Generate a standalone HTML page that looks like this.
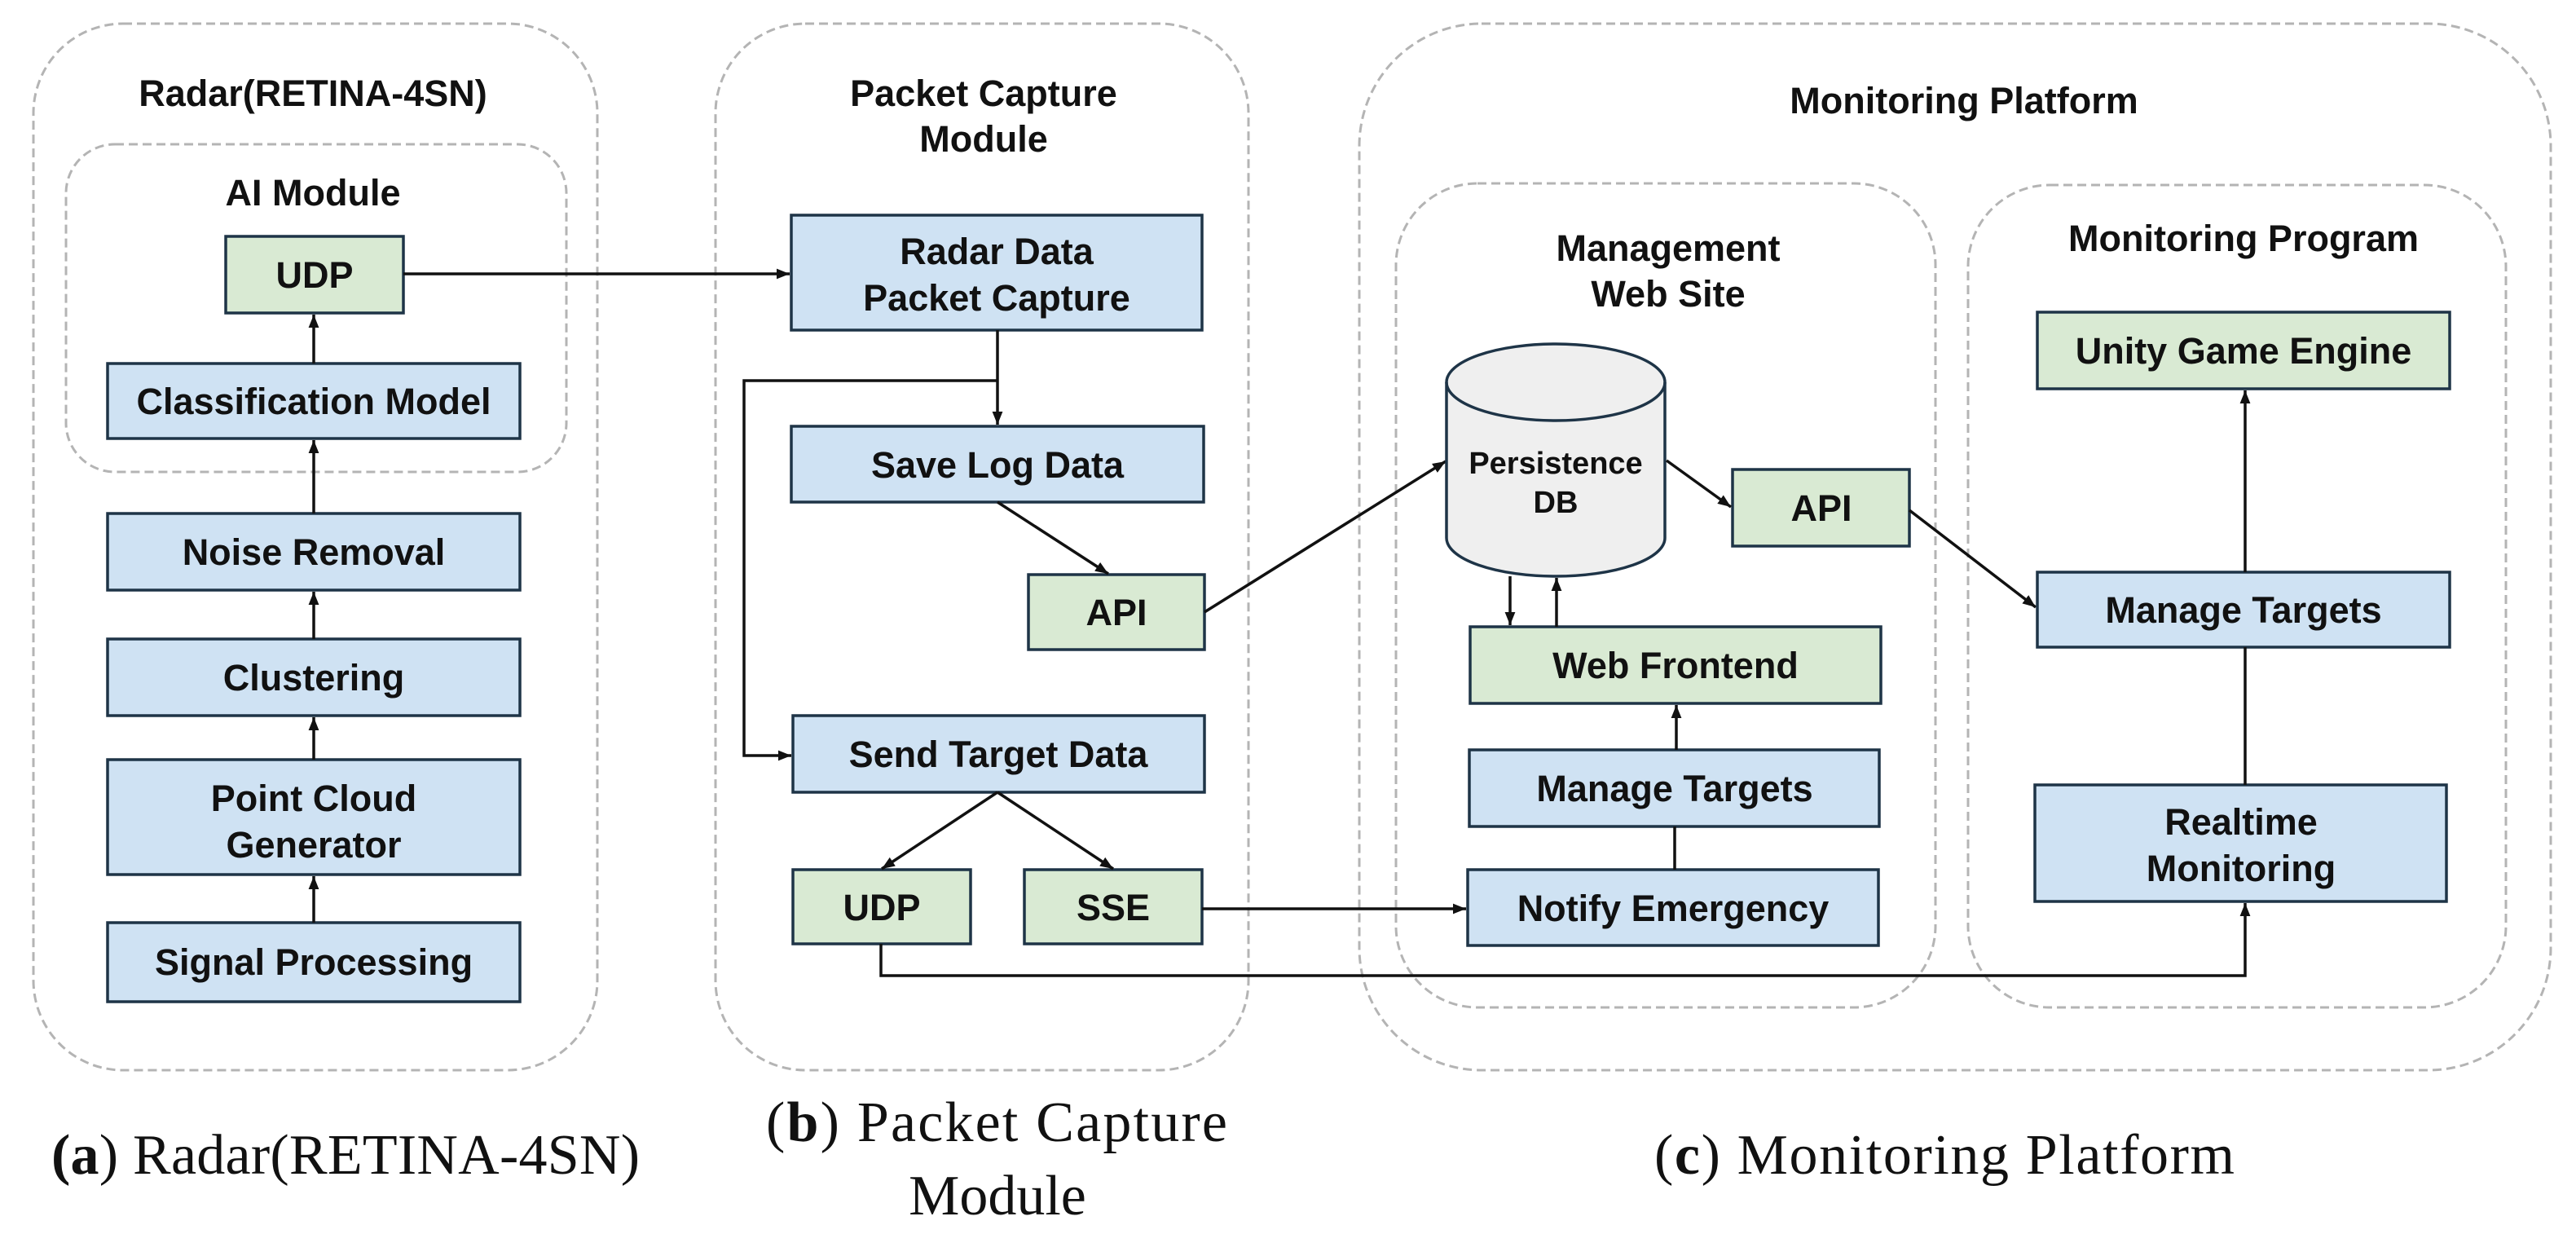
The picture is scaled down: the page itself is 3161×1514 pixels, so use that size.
<!DOCTYPE html>
<html><head><meta charset="utf-8"><style>
html,body{margin:0;padding:0;background:#fff}
svg{display:block}
.b{fill:#cfe2f3;stroke:#1e3447;stroke-width:3.5}
.g{fill:#d9ead3;stroke:#1e3447;stroke-width:3.5}
.d{fill:none;stroke:#b4b4b4;stroke-width:3;stroke-dasharray:11 6}
.t{font-family:"Liberation Sans",sans-serif;font-weight:bold;font-size:45px;fill:#111;text-anchor:middle}
.h{font-family:"Liberation Sans",sans-serif;font-weight:bold;font-size:45px;fill:#111;text-anchor:middle}
.c{font-family:"Liberation Serif",serif;font-size:70px;fill:#111;text-anchor:middle}
.l{fill:none;stroke:#111;stroke-width:3.5}
</style></head><body>
<svg width="3161" height="1514" viewBox="0 0 3161 1514" xmlns="http://www.w3.org/2000/svg">
<defs>
<marker id="m" viewBox="0 0 10 10" refX="10" refY="5" markerWidth="16" markerHeight="16" orient="auto" markerUnits="userSpaceOnUse"><path d="M0,1 L10,5 L0,9 z" fill="#111"/></marker></defs>

<!-- containers -->
<rect class="d" x="41" y="29" width="692" height="1284" rx="110"/>
<rect class="d" x="81" y="177" width="614" height="402" rx="60"/>
<rect class="d" x="878" y="29" width="654" height="1284" rx="110"/>
<rect class="d" x="1668" y="29" width="1462" height="1284" rx="150"/>
<rect class="d" x="1713" y="225" width="662" height="1011" rx="100"/>
<rect class="d" x="2415" y="227" width="660" height="1009" rx="100"/>

<text class="h" x="384" y="130">Radar(RETINA-4SN)</text>
<text class="h" x="384" y="252">AI Module</text>
<text class="h" x="1207" y="130">Packet Capture</text>
<text class="h" x="1207" y="186">Module</text>
<text class="h" x="2410" y="139">Monitoring Platform</text>
<text class="h" x="2047" y="320">Management</text>
<text class="h" x="2047" y="376">Web Site</text>
<text class="h" x="2753" y="308">Monitoring Program</text>

<!-- radar column -->
<rect class="g" x="277" y="290" width="218" height="94"/><text class="t" x="386" y="353">UDP</text>
<rect class="b" x="132" y="446" width="506" height="92"/><text class="t" x="385" y="508">Classification Model</text>
<rect class="b" x="132" y="630" width="506" height="94"/><text class="t" x="385" y="693">Noise Removal</text>
<rect class="b" x="132" y="784" width="506" height="94"/><text class="t" x="385" y="847">Clustering</text>
<rect class="b" x="132" y="932" width="506" height="141"/><text class="t" x="385" y="995">Point Cloud</text><text class="t" x="385" y="1052">Generator</text>
<rect class="b" x="132" y="1132" width="506" height="97"/><text class="t" x="385" y="1196">Signal Processing</text>
<g class="l">
<line x1="385" y1="1132" x2="385" y2="1075" marker-end="url(#m)"/>
<line x1="385" y1="932" x2="385" y2="880" marker-end="url(#m)"/>
<line x1="385" y1="784" x2="385" y2="726" marker-end="url(#m)"/>
<line x1="385" y1="630" x2="385" y2="540" marker-end="url(#m)"/>
<line x1="385" y1="446" x2="385" y2="386" marker-end="url(#m)"/>
<line x1="495" y1="336" x2="969" y2="336" marker-end="url(#m)"/>
</g>

<!-- packet capture -->
<rect class="b" x="971" y="264" width="504" height="141"/><text class="t" x="1223" y="324">Radar Data</text><text class="t" x="1223" y="381">Packet Capture</text>
<rect class="b" x="971" y="523" width="506" height="93"/><text class="t" x="1224" y="586">Save Log Data</text>
<rect class="g" x="1262" y="705" width="216" height="92"/><text class="t" x="1370" y="767">API</text>
<rect class="b" x="973" y="878" width="505" height="94"/><text class="t" x="1225" y="941">Send Target Data</text>
<rect class="g" x="973" y="1067" width="218" height="91"/><text class="t" x="1082" y="1129">UDP</text>
<rect class="g" x="1257" y="1067" width="218" height="91"/><text class="t" x="1366" y="1129">SSE</text>
<g class="l">
<line x1="1224" y1="405" x2="1224" y2="521" marker-end="url(#m)"/>
<polyline points="1224,467 913,467 913,927 971,927" marker-end="url(#m)"/>
<line x1="1224" y1="616" x2="1360" y2="704" marker-end="url(#m)"/>
<line x1="1224" y1="972" x2="1082" y2="1066" marker-end="url(#m)"/>
<line x1="1224" y1="972" x2="1366" y2="1066" marker-end="url(#m)"/>
<line x1="1478" y1="751" x2="1774" y2="566" marker-end="url(#m)"/>
<line x1="1475" y1="1115" x2="1799" y2="1115" marker-end="url(#m)"/>
<polyline points="1081,1158 1081,1197 2755,1197 2755,1108" marker-end="url(#m)"/>
</g>

<!-- management web -->
<path d="M1775,469 L1775,660 A134,47 0 0 0 2043,660 L2043,469 A134,47 0 0 0 1775,469 Z" fill="#efefef" stroke="#1e3447" stroke-width="3.5"/>
<path d="M1775,469 A134,47 0 0 0 2043,469" fill="none" stroke="#1e3447" stroke-width="3.5"/>
<text class="t" x="1909" y="581" style="font-size:38px">Persistence</text>
<text class="t" x="1909" y="629" style="font-size:38px">DB</text>
<rect class="g" x="2126" y="576" width="217" height="94"/><text class="t" x="2235" y="639">API</text>
<rect class="g" x="1804" y="769" width="504" height="94"/><text class="t" x="2056" y="832">Web Frontend</text>
<rect class="b" x="1803" y="920" width="503" height="94"/><text class="t" x="2055" y="983">Manage Targets</text>
<rect class="b" x="1801" y="1067" width="504" height="93"/><text class="t" x="2053" y="1130">Notify Emergency</text>
<g class="l">
<line x1="1853" y1="707" x2="1853" y2="767" marker-end="url(#m)"/>
<line x1="1910" y1="769" x2="1910" y2="709" marker-end="url(#m)"/>
<line x1="2057" y1="920" x2="2057" y2="865" marker-end="url(#m)"/>
<line x1="2055" y1="1067" x2="2055" y2="1014"/>
<line x1="2045" y1="565" x2="2124" y2="622" marker-end="url(#m)"/>
<line x1="2343" y1="626" x2="2498" y2="745" marker-end="url(#m)"/>
</g>

<!-- monitoring program -->
<rect class="g" x="2500" y="383" width="506" height="94"/><text class="t" x="2753" y="446">Unity Game Engine</text>
<rect class="b" x="2500" y="702" width="506" height="92"/><text class="t" x="2753" y="764">Manage Targets</text>
<rect class="b" x="2497" y="963" width="505" height="143"/><text class="t" x="2750" y="1024">Realtime</text><text class="t" x="2750" y="1081">Monitoring</text>
<g class="l">
<line x1="2755" y1="702" x2="2755" y2="479" marker-end="url(#m)"/>
<line x1="2755" y1="963" x2="2755" y2="794"/>
</g>

<!-- captions -->
<text class="c" x="424" y="1440" textLength="722"><tspan font-weight="bold">(a</tspan>) Radar(RETINA-4SN)</text>
<text class="c" x="1223" y="1400" textLength="566">(<tspan font-weight="bold">b</tspan>) Packet Capture</text>
<text class="c" x="1224" y="1490">Module</text>
<text class="c" x="2386" y="1440" textLength="712">(<tspan font-weight="bold">c</tspan>) Monitoring Platform</text>
</svg>
</body></html>
